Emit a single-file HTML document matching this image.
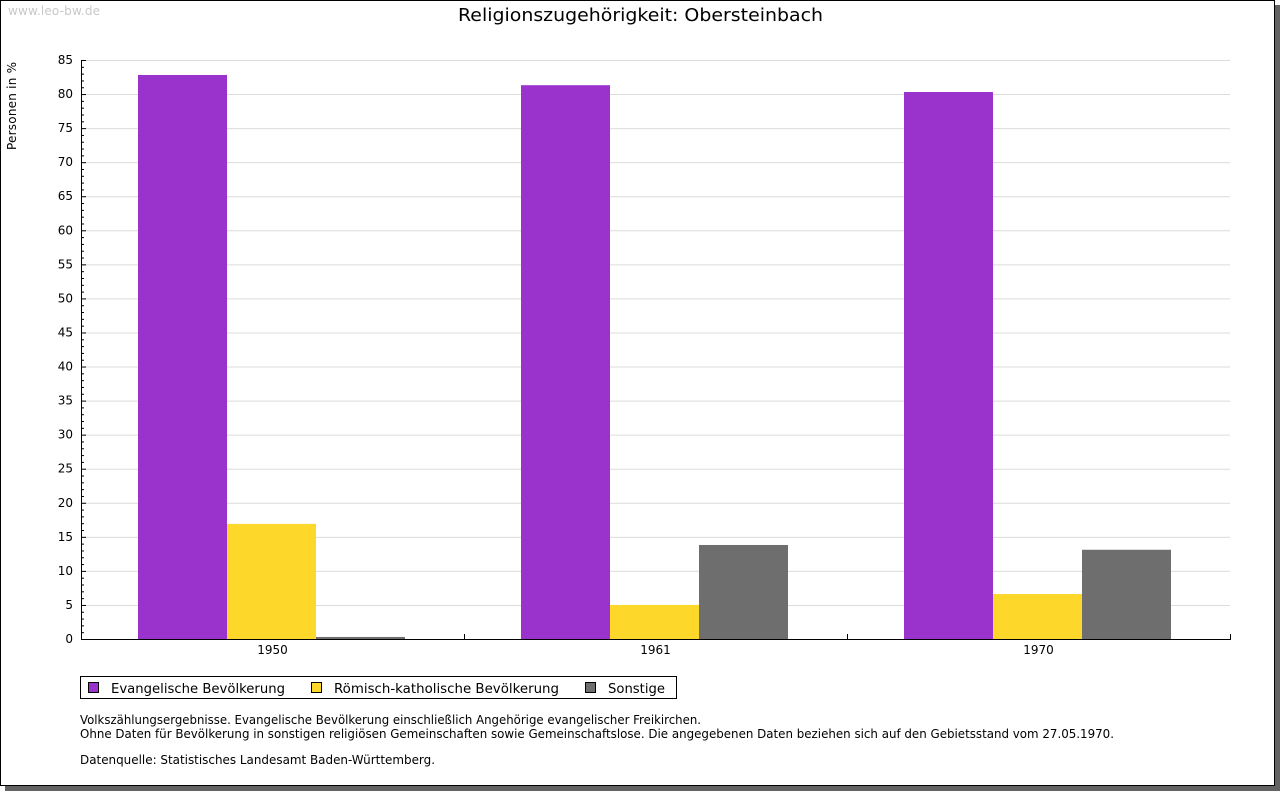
<!DOCTYPE html>
<html><head><meta charset="utf-8"><style>
body{margin:0;background:#fff;}
svg text{font-family:"DejaVu Sans","Liberation Sans",sans-serif;}
</style></head><body>
<svg width="1280" height="791" xmlns="http://www.w3.org/2000/svg">
<rect x="5" y="5" width="1275" height="786" fill="#636363"/>
<rect x="0.5" y="0.5" width="1274" height="785" fill="#fff" stroke="#000"/>
<text x="8" y="15" font-size="12" fill="#c8c8c8" textLength="92">www.leo-bw.de</text>
<text x="458" y="21" font-size="18" fill="#000" textLength="365" lengthAdjust="spacingAndGlyphs">Religionszugehörigkeit: Obersteinbach</text>
<text transform="translate(16,150) rotate(-90)" font-size="12" textLength="88">Personen in %</text>
<g id="grid"></g><g id="bars"></g><g id="axes"></g>
<g>
<rect x="80.5" y="676.5" width="596" height="22" fill="#fff" stroke="#000"/>
<rect x="88.5" y="682.5" width="10" height="10" fill="#9933cc" stroke="#000"/>
<text x="111" y="693" font-size="13" textLength="174" lengthAdjust="spacingAndGlyphs">Evangelische Bevölkerung</text>
<rect x="311.5" y="682.5" width="10" height="10" fill="#fdd72a" stroke="#000"/>
<text x="334" y="693" font-size="13" textLength="225" lengthAdjust="spacingAndGlyphs">Römisch-katholische Bevölkerung</text>
<rect x="585.5" y="682.5" width="10" height="10" fill="#6e6e6e" stroke="#000"/>
<text x="608" y="693" font-size="13" textLength="57" lengthAdjust="spacingAndGlyphs">Sonstige</text>
</g>
<g font-size="12">
<text x="80" y="724" textLength="621" lengthAdjust="spacingAndGlyphs">Volkszählungsergebnisse. Evangelische Bevölkerung einschließlich Angehörige evangelischer Freikirchen.</text>
<text x="80" y="738" textLength="1034" lengthAdjust="spacingAndGlyphs">Ohne Daten für Bevölkerung in sonstigen religiösen Gemeinschaften sowie Gemeinschaftslose. Die angegebenen Daten beziehen sich auf den Gebietsstand vom 27.05.1970.</text>
<text x="80" y="764" textLength="355" lengthAdjust="spacingAndGlyphs">Datenquelle: Statistisches Landesamt Baden-Württemberg.</text>
</g>
</svg>
<script>
const categories=["1950","1961","1970"];
const evangelisch=[82.8,81.3,80.3];
const katholisch=[16.9,5.0,6.6];
const sonstige=[0.3,13.8,13.1];
const yTicks=[0,5,10,15,20,25,30,35,40,45,50,55,60,65,70,75,80,85];
const NS="http://www.w3.org/2000/svg";
const X0=81,X1=1230,Y0=639,Y1=60,YMAX=85;
const y=v=>Y0-(v/YMAX)*(Y0-Y1);
const gw=(X1-X0)/categories.length;
const gx=i=>X0+gw*i+gw/2;
function mk(tag,attrs,parent){const e=document.createElementNS(NS,tag);for(const k in attrs)e.setAttribute(k,attrs[k]);document.getElementById(parent).appendChild(e);return e;}
yTicks.forEach(t=>{
 if(t>0){const l=mk('line',{x1:X0,x2:X1,y1:y(t)+0.5,y2:y(t)+0.5,stroke:'#dcdcdc'},'grid');
 
 }
 const tx=mk('text',{x:73,y:y(t)+4,'font-size':12,'text-anchor':'end'},'axes');tx.textContent=t;
 
 
 mk('line',{x1:X0,x2:X0+5,y1:y(t)+0.5,y2:y(t)+0.5,stroke:'#000'},'axes');
});
for(let v=1;v<YMAX;v++){if(v%5)mk('line',{x1:X0,x2:X0+3,y1:y(v)+0.5,y2:y(v)+0.5,stroke:'#000'},'axes');}
const series=[[evangelisch,'#9933cc','evangelisch'],[katholisch,'#fdd72a','katholisch'],[sonstige,'#6e6e6e','sonstige']];
const bw=89;
categories.forEach((c,i)=>{
 series.forEach((s,j)=>{
  const x=gx(i)-1.5*bw+j*bw-1;
  const r=mk('rect',{x:x,y:y(s[0][i]),width:bw,height:Y0-y(s[0][i]),fill:s[1]},'bars');
  
  
 });
 const t=mk('text',{x:gx(i),y:654,'font-size':12,'text-anchor':'middle'},'axes');t.textContent=c;
 
 
 const bx=Math.round(X0+gw*(i+1))+0.5;
 mk('line',{x1:bx,x2:bx,y1:Y0-5,y2:Y0,stroke:'#000'},'axes');
});
const ya=mk('line',{x1:X0+0.5,x2:X0+0.5,y1:Y1,y2:Y0+1,stroke:'#000'},'axes');


const xa=mk('line',{x1:X0,x2:X1+1,y1:Y0+0.5,y2:Y0+0.5,stroke:'#000'},'axes');


</script>
</body></html>
